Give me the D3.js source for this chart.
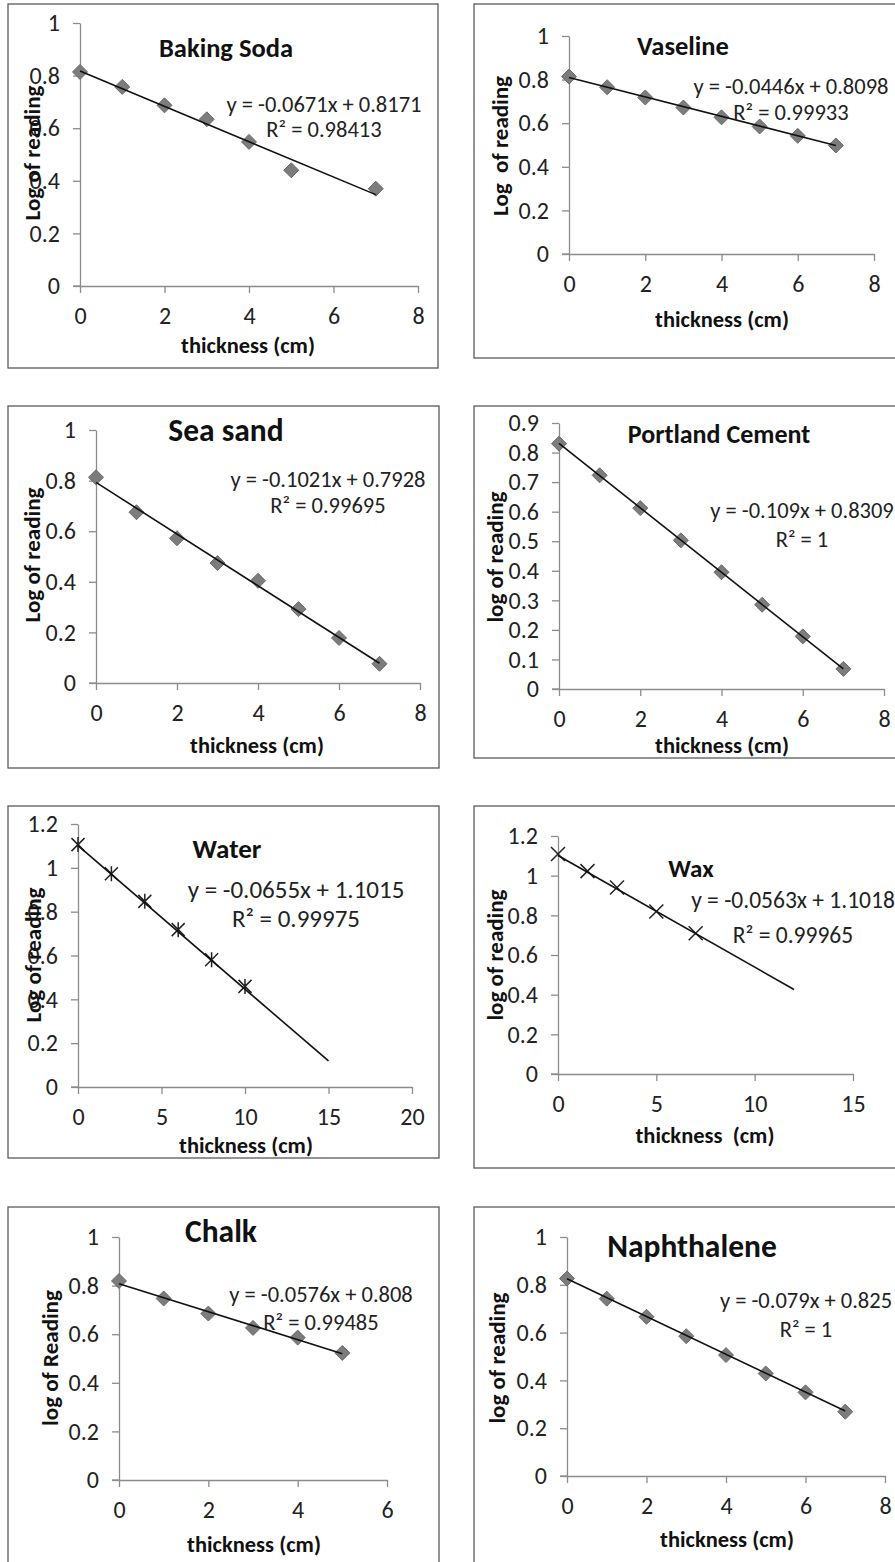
<!DOCTYPE html>
<html>
<head>
<meta charset="utf-8">
<script src="https://cdn.jsdelivr.net/npm/d3@7/dist/d3.min.js"></script>
<style>
  body { margin: 0; background: #fff; }
  svg { display: block; font-family: Carlito, Calibri, Lato, sans-serif; }
  svg text { white-space: pre; }
</style>
</head>
<body>
<div id="drawing_region"></div>
<script>
// values
var titles = ["Baking Soda", "Vaseline", "Sea sand", "Portland Cement", "Water", "Wax", "Chalk", "Naphthalene"];
var yLabels = ["Log of reading", "Log  of reading", "Log of reading", "log of reading", "Log of reading", "log of reading", "log of Reading", "log of reading"];
var xLabels = ["thickness (cm)", "thickness (cm)", "thickness (cm)", "thickness (cm)", "thickness (cm)", "thickness  (cm)", "thickness (cm)", "thickness (cm)"];

var bakingSodaX = [0, 1, 2, 3, 4, 5, 7];
var bakingSodaY = [0.814, 0.757, 0.687, 0.634, 0.548, 0.440, 0.370];
var vaselineX = [0, 1, 2, 3, 4, 5, 6, 7];
var vaselineY = [0.814, 0.765, 0.718, 0.672, 0.627, 0.585, 0.542, 0.498];
var seaSandX = [0, 1, 2, 3, 4, 5, 6, 7];
var seaSandY = [0.813, 0.675, 0.572, 0.474, 0.404, 0.292, 0.178, 0.076];
var portlandX = [0, 1, 2, 3, 4, 5, 6, 7];
var portlandY = [0.830, 0.723, 0.612, 0.503, 0.395, 0.285, 0.178, 0.068];
var waterX = [0, 2, 4, 6, 8, 10];
var waterY = [1.106, 0.973, 0.847, 0.718, 0.581, 0.459];
var waxX = [0, 1.5, 3, 5, 7];
var waxY = [1.109, 1.023, 0.940, 0.819, 0.710];
var chalkX = [0, 1, 2, 3, 4, 5];
var chalkY = [0.819, 0.747, 0.685, 0.626, 0.586, 0.523];
var naphthaleneX = [0, 1, 2, 3, 4, 5, 6, 7];
var naphthaleneY = [0.826, 0.742, 0.666, 0.585, 0.506, 0.429, 0.350, 0.269];

// trendlines (from the labels) and how far each one runs
var slopes = [-0.0671, -0.0446, -0.1021, -0.109, -0.0655, -0.0563, -0.0576, -0.079];
var intercepts = [0.8171, 0.8098, 0.7928, 0.8309, 1.1015, 1.1018, 0.808, 0.825];
var rSquared = ["0.98413", "0.99933", "0.99695", "1", "0.99975", "0.99965", "0.99485", "1"];
var trendEnd = [7, 7, 7, 7, 15, 12, 5, 7];

// axis ticks
var xTicks8 = [0, 2, 4, 6, 8];
var xTicks20 = [0, 5, 10, 15, 20];
var xTicks15 = [0, 5, 10, 15];
var xTicks6 = [0, 2, 4, 6];
var yTicks1 = [0, 0.2, 0.4, 0.6, 0.8, 1];
var yTicks09 = [0, 0.1, 0.2, 0.3, 0.4, 0.5, 0.6, 0.7, 0.8, 0.9];
var yTicks12 = [0, 0.2, 0.4, 0.6, 0.8, 1, 1.2];

var series = [
  { x: bakingSodaX, y: bakingSodaY, xTicks: xTicks8, yTicks: yTicks1, marker: "diamond" },
  { x: vaselineX, y: vaselineY, xTicks: xTicks8, yTicks: yTicks1, marker: "diamond" },
  { x: seaSandX, y: seaSandY, xTicks: xTicks8, yTicks: yTicks1, marker: "diamond" },
  { x: portlandX, y: portlandY, xTicks: xTicks8, yTicks: yTicks09, marker: "diamond" },
  { x: waterX, y: waterY, xTicks: xTicks20, yTicks: yTicks12, marker: "star" },
  { x: waxX, y: waxY, xTicks: xTicks15, yTicks: yTicks12, marker: "cross" },
  { x: chalkX, y: chalkY, xTicks: xTicks6, yTicks: yTicks1, marker: "diamond" },
  { x: naphthaleneX, y: naphthaleneY, xTicks: xTicks8, yTicks: yTicks1, marker: "diamond" }
];

// page layout of every panel
var layout = [
  { box: [8, 4, 430, 364], left: 80, right: 418, bottom: 286, top: 23,
    title: [226, 57, 26.5], eq: [324, 112, 137, 22.5], yt: [32, 153], xt: [248, 353] },
  { box: [474, 4, 440, 354], left: 569, right: 874, bottom: 254, top: 36,
    title: [683, 55, 26.5], eq: [791, 94, 120, 22.5], yt: [500, 146], xt: [722, 327] },
  { box: [8, 406, 431, 362], left: 96, right: 420, bottom: 683, top: 430,
    title: [226, 441, 31.5], eq: [328, 487, 513, 22.5], yt: [32, 555], xt: [257, 753] },
  { box: [474, 406, 440, 352], left: 559, right: 884, bottom: 689, top: 423,
    title: [719, 443, 26], eq: [802, 518, 547, 22.5], yt: [495, 557], xt: [722, 753] },
  { box: [8, 806, 431, 352], left: 78, right: 412, bottom: 1087, top: 824,
    title: [227, 858, 27], eq: [296, 898, 927, 25], yt: [33, 955], xt: [246, 1153] },
  { box: [474, 806, 440, 362], left: 558, right: 853, bottom: 1074, top: 836,
    title: [691, 877, 25], eq: [793, 908, 943, 23.5], yt: [495, 955], xt: [705, 1143] },
  { box: [8, 1207, 431, 400], left: 119, right: 387, bottom: 1480, top: 1237,
    title: [221, 1242, 31.5], eq: [321, 1302, 1330, 22.5], yt: [50, 1358], xt: [254, 1552] },
  { box: [474, 1207, 440, 400], left: 567, right: 885, bottom: 1476, top: 1237,
    title: [692, 1257, 31.5], eq: [806, 1308, 1337, 22.5], yt: [497, 1358], xt: [727, 1547] }
];

var svg = d3.select("#drawing_region")
  .append("svg")
  .attr("width", 895)
  .attr("height", 1562);

svg.append("rect").attr("width", 895).attr("height", 1562).attr("fill", "#fff");

var fmt = d3.format("~g");
var textColor = "#222";

function drawPanel(i) {
  var d = series[i], L = layout[i];
  var g = svg.append("g");

  g.append("rect")
    .attr("x", L.box[0]).attr("y", L.box[1])
    .attr("width", L.box[2]).attr("height", L.box[3])
    .attr("fill", "#fff")
    .attr("stroke", "#5a5a5a")
    .attr("stroke-width", 1.3);

  var xScale = d3.scaleLinear()
    .domain([0, d3.max(d.xTicks)])
    .range([L.left, L.right]);
  var yScale = d3.scaleLinear()
    .domain([0, d3.max(d.yTicks)])
    .range([L.bottom, L.top]);

  var xAxis = g.append("g")
    .attr("transform", "translate(0," + L.bottom + ")")
    .call(d3.axisBottom(xScale).tickValues(d.xTicks).tickFormat(fmt)
      .tickSize(7).tickSizeOuter(0).tickPadding(14));
  var yAxis = g.append("g")
    .attr("transform", "translate(" + L.left + ",0)")
    .call(d3.axisLeft(yScale).tickValues(d.yTicks).tickFormat(fmt)
      .tickSize(7).tickSizeOuter(0).tickPadding(13));

  [xAxis, yAxis].forEach(function (a) {
    a.select(".domain").attr("stroke", "#8c8c8c").attr("stroke-width", 1.3);
    a.selectAll(".tick line").attr("stroke", "#8c8c8c").attr("stroke-width", 1.3);
    a.selectAll(".tick text")
      .attr("fill", textColor)
      .style("font-size", "24px")
      .style("font-family", "Carlito, Calibri, Lato, sans-serif");
  });
  // x axis line reaches a little left of the y axis, like the original
  xAxis.append("line")
    .attr("x1", L.left - 7).attr("x2", L.left)
    .attr("stroke", "#8c8c8c").attr("stroke-width", 1.3);

  var pts = d.x.map(function (v, k) { return { x: v, y: d.y[k] }; });

  // markers
  var m = g.append("g").selectAll("path")
    .data(pts)
    .enter()
    .append("path")
    .attr("transform", function (p) { return "translate(" + xScale(p.x) + "," + yScale(p.y) + ")"; });
  if (d.marker === "diamond") {
    m.attr("d", "M0,-7.5L7.5,0L0,7.5L-7.5,0Z")
      .attr("fill", "#7c7c7c")
      .attr("stroke", "#6a6a6a")
      .attr("stroke-width", 1);
  } else if (d.marker === "star") {
    m.attr("d", "M-6.5,-6.5L6.5,6.5M-6.5,6.5L6.5,-6.5M0,-7.5L0,7.5")
      .attr("fill", "none").attr("stroke", "#222").attr("stroke-width", 1.5);
  } else {
    m.attr("d", "M-7,-7L7,7M-7,7L7,-7")
      .attr("fill", "none").attr("stroke", "#222").attr("stroke-width", 1.5);
  }

  // linear trendline
  var ends = [d3.min(d.x), trendEnd[i]].map(function (v) {
    return { x: v, y: slopes[i] * v + intercepts[i] };
  });
  g.append("path")
    .datum(ends)
    .attr("d", d3.line().x(function (p) { return xScale(p.x); }).y(function (p) { return yScale(p.y); }))
    .attr("stroke", "#111")
    .attr("stroke-width", 1.6)
    .attr("fill", "none");

  // titles
  g.append("text")
    .attr("x", L.title[0]).attr("y", L.title[1])
    .attr("text-anchor", "middle")
    .attr("font-weight", "bold")
    .attr("font-size", L.title[2])
    .attr("fill", "#111")
    .text(titles[i]);

  var eqText = "y = " + slopes[i] + "x + " + intercepts[i];
  g.append("text")
    .attr("x", L.eq[0]).attr("y", L.eq[1])
    .attr("text-anchor", "middle")
    .attr("font-size", L.eq[3])
    .attr("fill", textColor)
    .text(eqText);
  g.append("text")
    .attr("x", L.eq[0]).attr("y", L.eq[2])
    .attr("text-anchor", "middle")
    .attr("font-size", L.eq[3])
    .attr("fill", textColor)
    .text("R\u00b2 = " + rSquared[i]);

  g.append("text")
    .attr("transform", "translate(" + L.yt[0] + "," + L.yt[1] + ") rotate(-90)")
    .attr("text-anchor", "middle")
    .attr("dy", "0.35em")
    .attr("font-weight", "bold")
    .attr("font-size", 23)
    .attr("fill", "#111")
    .text(yLabels[i]);

  g.append("text")
    .attr("x", L.xt[0]).attr("y", L.xt[1])
    .attr("text-anchor", "middle")
    .attr("font-weight", "bold")
    .attr("font-size", 22.5)
    .attr("fill", "#111")
    .text(xLabels[i]);
}

for (var i = 0; i < series.length; i++) drawPanel(i);
</script>
</body>
</html>
